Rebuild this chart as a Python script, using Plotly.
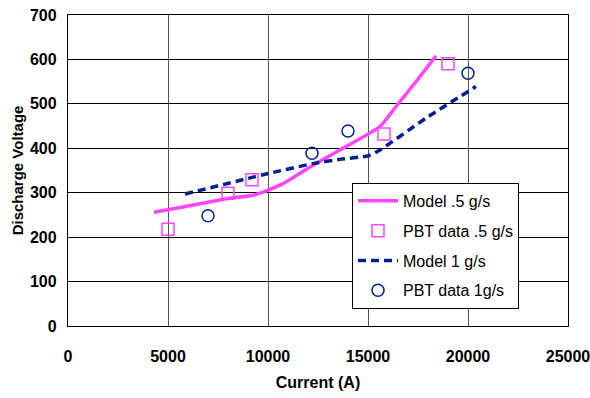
import plotly.graph_objects as go

# Model .5 g/s
model05_x = [4300, 6000, 8000, 9300, 10600, 12250, 13900, 15600, 16400, 17400, 18400]
model05_y = [256, 270, 287, 295, 317, 362, 404, 449, 494, 550, 608]
# PBT data .5 g/s
pbt05_x = [5000, 8000, 9200, 15800, 19000]
pbt05_y = [218, 299, 329, 432, 590]
# Model 1 g/s
model1_x = [5850, 9900, 12300, 13600, 15000, 15600, 17900, 20400]
model1_y = [297, 342, 366, 375, 383, 396, 468, 539]
# PBT data 1 g/s
pbt1_x = [7000, 12200, 14000, 20000]
pbt1_y = [248, 389, 439, 569]

x_ticks = [0, 5000, 10000, 15000, 20000, 25000]
y_ticks = [0, 100, 200, 300, 400, 500, 600, 700]

MAG = "#FF44FF"
NAVY = "#002090"
FONT = "Liberation Sans, Arial, sans-serif"

fig = go.Figure()
fig.add_trace(go.Scatter(x=model05_x, y=model05_y, mode="lines", name="Model .5 g/s",
                         line=dict(color=MAG, width=3.5, shape="spline", smoothing=0.6),
                         legendgroup="a"))
fig.add_trace(go.Scatter(x=pbt05_x, y=pbt05_y, mode="markers", name="PBT data .5 g/s",
                         marker=dict(symbol="square-open", size=12, color=MAG, line=dict(width=1.5)),
                         legendgroup="b"))
fig.add_trace(go.Scatter(x=model1_x, y=model1_y, mode="lines", name="Model 1 g/s",
                         line=dict(color=NAVY, width=3.5, dash="8px,5px", shape="spline", smoothing=0.5),
                         legendgroup="c"))
fig.add_trace(go.Scatter(x=pbt1_x, y=pbt1_y, mode="markers", name="PBT data 1g/s",
                         marker=dict(symbol="circle-open", size=12, color=NAVY, line=dict(width=1.5)),
                         legendgroup="d"))

fig.update_layout(
    width=590, height=398,
    margin=dict(l=68, r=22, t=15, b=72),
    paper_bgcolor="white", plot_bgcolor="white",
    font=dict(family=FONT, color="black"),
    showlegend=True,
    legend=dict(x=0.568, y=0.46, xanchor="left", yanchor="top",
                bgcolor="white", bordercolor="black", borderwidth=1,
                font=dict(size=16, color="black"), tracegroupgap=6, itemwidth=40,
                traceorder="grouped"),
    xaxis=dict(range=[0, 25000], tickvals=x_ticks, ticktext=[str(v) for v in x_ticks],
               automargin=False, ticklabeloverflow="allow",
               showgrid=True, gridcolor="#555555", gridwidth=1.3,
               showline=True, linecolor="black", linewidth=1.3, mirror=True,
               ticks="", ticklabelstandoff=16,
               tickfont=dict(size=16, family=FONT, weight="bold"),
               title=dict(text="Current (A)", standoff=12,
                          font=dict(size=16, family=FONT, weight="bold")),
               zeroline=False),
    yaxis=dict(range=[0, 700], tickvals=y_ticks, ticktext=[str(v) for v in y_ticks],
               automargin=False, ticklabeloverflow="allow",
               showgrid=True, gridcolor="black", gridwidth=1.3,
               showline=True, linecolor="black", linewidth=1.3, mirror=True,
               ticks="", ticklabelstandoff=7,
               tickfont=dict(size=16, family=FONT, weight="bold"),
               title=dict(text="Discharge Voltage", standoff=2,
                          font=dict(size=15, family=FONT, weight="bold")),
               zeroline=False),
)

fig.write_html("out.html", config={"displayModeBar": False},
               post_script="document.body.style.margin='0';document.body.style.padding='0';")
